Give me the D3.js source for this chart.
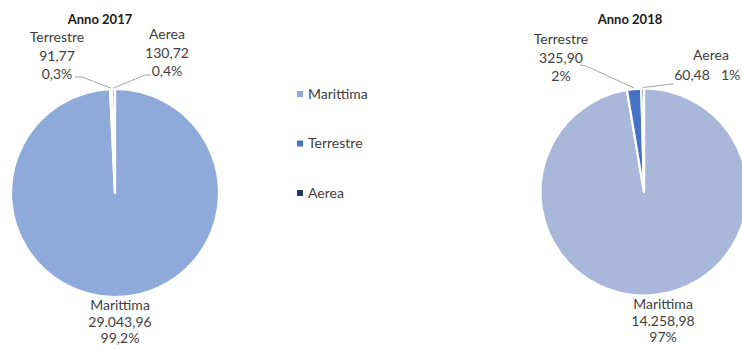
<!DOCTYPE html>
<html><head><meta charset="utf-8">
<script src="https://cdn.jsdelivr.net/npm/d3@7"></script>
<style>
html,body{margin:0;padding:0;background:#fff;}
svg{display:block;font-family:Lato,"Open Sans",sans-serif;}
</style></head>
<body><svg id="c" width="742" height="349"></svg>
<script>
const categories = ["Marittima", "Terrestre", "Aerea"];
const years = ["Anno 2017", "Anno 2018"];
const values2017 = [29043.96, 91.77, 130.72];
const values2018 = [14258.98, 325.90, 60.48];
const valueLabels2017 = ["29.043,96", "91,77", "130,72"];
const valueLabels2018 = ["14.258,98", "325,90", "60,48"];
const pctLabels2017 = ["99,2%", "0,3%", "0,4%"];
const pctLabels2018 = ["97%", "2%", "1%"];

const legendColors = ["#8FAADC", "#4472C4", "#203864"];
const pieColors = [["#8EAADB", "#8EAADB", "#8EAADB"], ["#A9B7DB", "#4472C4", "#203864"]];
const txt = "#404040";

const svg = d3.select("#c");

const layouts = [
  { cx: 115, cy: 193, r: 104, titleX: 100,
    labels: [
      {x: 120, y: 310, lh: 16.5, anchor: "middle"},
      {x: 57, y: 42, lh: 18.5, anchor: "middle", line: [[75, 77], [82, 77]]},
      {x: 167, y: 39, lh: 18.5, anchor: "middle", line: [[151, 75], [145, 75]]}
    ]},
  { cx: 644, cy: 192, r: 103.5, titleX: 630,
    labels: [
      {x: 663, y: 309, lh: 16.5, anchor: "middle"},
      {x: 561, y: 44, lh: 18.5, anchor: "middle", line: [[580, 65], [586, 66]]},
      {x: 711, y: 60, lh: 20, anchor: "middle", inline: true, vx: 692, px: 721, line: [[674, 84], [672, 84]]}
    ]}
];

const datasets = [
  {vals: values2017, vl: valueLabels2017, pl: pctLabels2017},
  {vals: values2018, vl: valueLabels2018, pl: pctLabels2018}
];

const pie = d3.pie().sort(null).value(d => d);

datasets.forEach((ds, i) => {
  const L = layouts[i];
  const g = svg.append("g").attr("transform", `translate(${L.cx},${L.cy})`);
  const arc = d3.arc().innerRadius(0).outerRadius(L.r);
  const arcs = pie(ds.vals);
  g.selectAll("path").data(arcs).join("path")
    .attr("d", arc)
    .attr("fill", (d, j) => pieColors[i][j])
    .attr("stroke", "#fff").attr("stroke-width", 2.2).attr("stroke-linejoin", "round");

  svg.append("text").attr("x", L.titleX).attr("y", 24)
    .attr("text-anchor", "middle").attr("font-weight", "bold")
    .attr("font-size", 13).attr("fill", "#1a1a1a").text(years[i]);

  arcs.forEach((a, j) => {
    const lab = L.labels[j];
    if (lab.line) {
      const mid = (a.startAngle + a.endAngle) / 2;
      const ex = L.cx + Math.sin(mid) * (L.r + 1);
      const ey = L.cy - Math.cos(mid) * (L.r + 1);
      svg.append("polyline")
        .attr("points", [lab.line[0], lab.line[1], [ex, ey]].map(p => p.join(",")).join(" "))
        .attr("fill", "none").attr("stroke", "#a6a6a6").attr("stroke-width", 1);
    }
    const t = svg.append("text").attr("font-size", 14).attr("fill", txt).attr("text-anchor", lab.anchor);
    t.append("tspan").attr("x", lab.x).attr("y", lab.y).text(categories[j]);
    if (lab.inline) {
      t.append("tspan").attr("x", lab.vx).attr("y", lab.y + lab.lh).text(ds.vl[j]);
      t.append("tspan").attr("x", lab.px).attr("y", lab.y + lab.lh).attr("text-anchor", "start").text(ds.pl[j]);
    } else {
      t.append("tspan").attr("x", lab.x).attr("y", lab.y + lab.lh).text(ds.vl[j]);
      t.append("tspan").attr("x", lab.x).attr("y", lab.y + 2 * lab.lh).text(ds.pl[j]);
    }
  });
});

const ly = d3.scalePoint().domain(categories).range([94, 193]);
const lg = svg.append("g");
categories.forEach((c, j) => {
  lg.append("rect").attr("x", 297).attr("y", ly(c) - 3).attr("width", 6).attr("height", 6).attr("fill", legendColors[j]);
  lg.append("text").attr("x", 308).attr("y", ly(c) + 4.5).attr("font-size", 14).attr("fill", txt).text(c);
});
</script></body></html>
